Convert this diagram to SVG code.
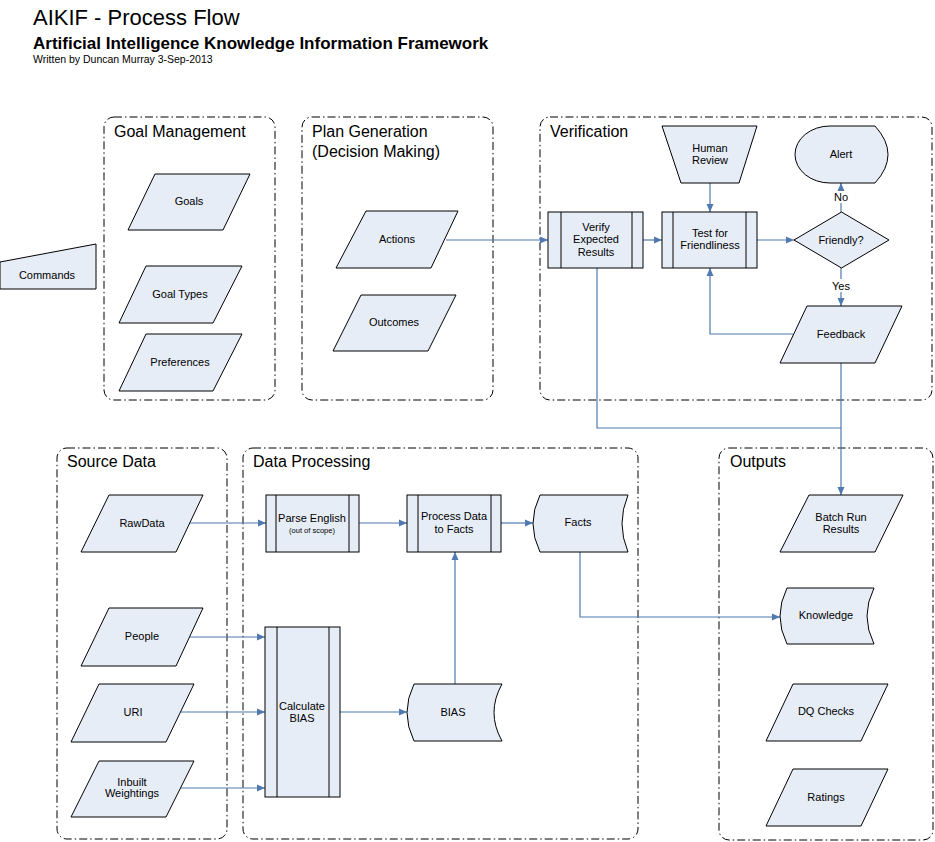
<svg xmlns="http://www.w3.org/2000/svg" width="935" height="842" viewBox="0 0 935 842">
<defs>
<style>
.t{font-family:"Liberation Sans",Arial,sans-serif;fill:#000}
.n{font-size:11px;text-anchor:middle}
.c{font-size:16px}
.box{fill:none;stroke:#000;stroke-width:1;stroke-dasharray:8 3 1.5 3}
.s{fill:#E7EDF7;stroke:#000;stroke-width:1}
.ln{fill:none;stroke:#000;stroke-width:1}
.k{fill:none;stroke:#4F79AF;stroke-width:1.2}
</style>
<marker id="a" markerUnits="userSpaceOnUse" markerWidth="8" markerHeight="8" refX="8" refY="4" orient="auto">
<path d="M0,0.5 L8,4 L0,7.5 Z" fill="#4F79AF"/>
</marker>
</defs>
<rect width="935" height="842" fill="#fff"/>

<g id="title">
<text class="t" x="33" y="25" font-size="22">AIKIF - Process Flow</text>
<text class="t" x="33" y="49" font-size="17" font-weight="bold">Artificial Intelligence Knowledge Information Framework</text>
<text class="t" x="33" y="63" font-size="10.5">Written by Duncan Murray 3-Sep-2013</text>
</g>

<g id="containers">
<g id="goal-management"><rect class="box" x="104" y="117" width="171" height="283" rx="10"/><text class="t c" x="114" y="137">Goal Management</text></g>
<g id="plan-generation"><rect class="box" x="302" y="117" width="191" height="283" rx="10"/><text class="t c" x="312" y="137">Plan Generation</text><text class="t c" x="312" y="157">(Decision Making)</text></g>
<g id="verification"><rect class="box" x="540" y="117" width="392" height="283" rx="10"/><text class="t c" x="550" y="137">Verification</text></g>
<g id="source-data"><rect class="box" x="57" y="448" width="170" height="391" rx="10"/><text class="t c" x="67" y="467">Source Data</text></g>
<g id="data-processing"><rect class="box" x="243" y="448" width="395" height="391" rx="10"/><text class="t c" x="253" y="467">Data Processing</text></g>
<g id="outputs"><rect class="box" x="719" y="448" width="214" height="392" rx="10"/><text class="t c" x="730" y="467">Outputs</text></g>
</g>

<g id="connectors">
<path class="k" d="M446,240 L548,240" marker-end="url(#a)"/>
<path class="k" d="M643,240 L662,240" marker-end="url(#a)"/>
<path class="k" d="M757,240 L794,240" marker-end="url(#a)"/>
<path class="k" d="M710,183 L710,212" marker-end="url(#a)"/>
<path class="k" d="M841,212 L841,183" marker-end="url(#a)"/>
<path class="k" d="M841,268 L841,306" marker-end="url(#a)"/>
<path class="k" d="M793,334 L710,334 L710,268" marker-end="url(#a)"/>
<path class="k" d="M597,268 L597,428 L841,428"/>
<path class="k" d="M841,363 L841,495" marker-end="url(#a)"/>
<path class="k" d="M190,523 L266,523" marker-end="url(#a)"/>
<path class="k" d="M359,523 L407,523" marker-end="url(#a)"/>
<path class="k" d="M501,523 L533,523" marker-end="url(#a)"/>
<path class="k" d="M580,552 L580,617 L780,617" marker-end="url(#a)"/>
<path class="k" d="M190,637 L265,637" marker-end="url(#a)"/>
<path class="k" d="M181,712 L265,712" marker-end="url(#a)"/>
<path class="k" d="M181,788 L265,788" marker-end="url(#a)"/>
<path class="k" d="M340,712 L407,712" marker-end="url(#a)"/>
<path class="k" d="M455,684 L455,552" marker-end="url(#a)"/>
<rect x="830" y="191" width="22" height="12" fill="#fff"/>
<text class="t n" x="841" y="201">No</text>
<rect x="829" y="279" width="24" height="13" fill="#fff"/>
<text class="t n" x="841" y="290">Yes</text>
</g>

<g id="commands"><path class="s" d="M0,262 L96,244 L96,289 L0,289 Z"/><text class="t n" x="47" y="279">Commands</text></g>

<g id="goals"><path class="s" d="M155,174 L250,174 L223,230 L128,230 Z"/><text class="t n" x="189" y="205">Goals</text></g>
<g id="goal-types"><path class="s" d="M146,266 L242,266 L213,323 L119,323 Z"/><text class="t n" x="180" y="298">Goal Types</text></g>
<g id="preferences"><path class="s" d="M146,334 L242,334 L213,391 L119,391 Z"/><text class="t n" x="180" y="366">Preferences</text></g>

<g id="actions"><path class="s" d="M366,211 L458,211 L431,268 L336,268 Z"/><text class="t n" x="397" y="243">Actions</text></g>
<g id="outcomes"><path class="s" d="M361,295 L456,295 L428,351 L333,351 Z"/><text class="t n" x="394" y="326">Outcomes</text></g>

<g id="verify"><rect class="s" x="548" y="212" width="95" height="56"/><path class="ln" d="M561,212 V268 M632,212 V268"/><text class="t n" x="596" y="231">Verify</text><text class="t n" x="596" y="243">Expected</text><text class="t n" x="596" y="256">Results</text></g>
<g id="test-friendliness"><rect class="s" x="662" y="212" width="95" height="56"/><path class="ln" d="M673,212 V268 M746,212 V268"/><text class="t n" x="710" y="237">Test for</text><text class="t n" x="710" y="249">Friendliness</text></g>
<g id="human-review"><path class="s" d="M662,126 L757,126 L739,183 L681,183 Z"/><text class="t n" x="710" y="152">Human</text><text class="t n" x="710" y="164">Review</text></g>
<g id="alert"><path class="s" d="M830,126 L875,126 Q901,154.5 875,183 L830,183 A35,28.5 0 0 1 830,126 Z"/><text class="t n" x="841" y="158">Alert</text></g>
<g id="friendly"><path class="s" d="M841.5,212 L889,240 L841.5,268 L794,240 Z"/><text class="t n" x="841" y="244">Friendly?</text></g>
<g id="feedback"><path class="s" d="M807,306 L902,306 L875,363 L780,363 Z"/><text class="t n" x="841" y="338">Feedback</text></g>

<g id="rawdata"><path class="s" d="M109,495 L203,495 L176,552 L81,552 Z"/><text class="t n" x="142" y="527">RawData</text></g>
<g id="people"><path class="s" d="M109,608 L203,608 L176,666 L81,666 Z"/><text class="t n" x="142" y="640">People</text></g>
<g id="uri"><path class="s" d="M99,684 L194,684 L166,742 L71,742 Z"/><text class="t n" x="133" y="716">URI</text></g>
<g id="inbuilt"><path class="s" d="M99,761 L194,761 L166,817 L71,817 Z"/><text class="t n" x="132" y="786">Inbuilt</text><text class="t n" x="132" y="797">Weightings</text></g>

<g id="parse-english"><rect class="s" x="266" y="495" width="93" height="57"/><path class="ln" d="M276,495 V552 M349,495 V552"/><text class="t n" x="312" y="522">Parse English</text><text class="t" x="312" y="533" font-size="7.5" text-anchor="middle">(out of scope)</text></g>
<g id="process-data"><rect class="s" x="407" y="495" width="94" height="57"/><path class="ln" d="M418,495 V552 M491,495 V552"/><text class="t n" x="454" y="520">Process Data</text><text class="t n" x="454" y="533">to Facts</text></g>
<g id="facts"><path class="s" d="M540,495 L628,495 Q616,523.5 628,552 L540,552 Q526,523.5 540,495 Z"/><text class="t n" x="578" y="526">Facts</text></g>
<g id="calculate-bias"><rect class="s" x="265" y="627" width="75" height="170"/><path class="ln" d="M277,627 V797 M329,627 V797"/><text class="t n" x="302" y="710">Calculate</text><text class="t n" x="302" y="722">BIAS</text></g>
<g id="bias"><path class="s" d="M414,684 L502,684 Q486,712.5 502,741 L414,741 Q400,712.5 414,684 Z"/><text class="t n" x="453" y="716">BIAS</text></g>

<g id="batch-run"><path class="s" d="M809,495 L903,495 L875,552 L780,552 Z"/><text class="t n" x="841" y="521">Batch Run</text><text class="t n" x="841" y="533">Results</text></g>
<g id="knowledge"><path class="s" d="M787,588 L874,588 Q860,616 874,644 L787,644 Q773,616 787,588 Z"/><text class="t n" x="826" y="619">Knowledge</text></g>
<g id="dq-checks"><path class="s" d="M793,684 L888,684 L861,741 L766,741 Z"/><text class="t n" x="826" y="715">DQ Checks</text></g>
<g id="ratings"><path class="s" d="M793,769 L888,769 L861,826 L766,826 Z"/><text class="t n" x="826" y="801">Ratings</text></g>
</svg>
